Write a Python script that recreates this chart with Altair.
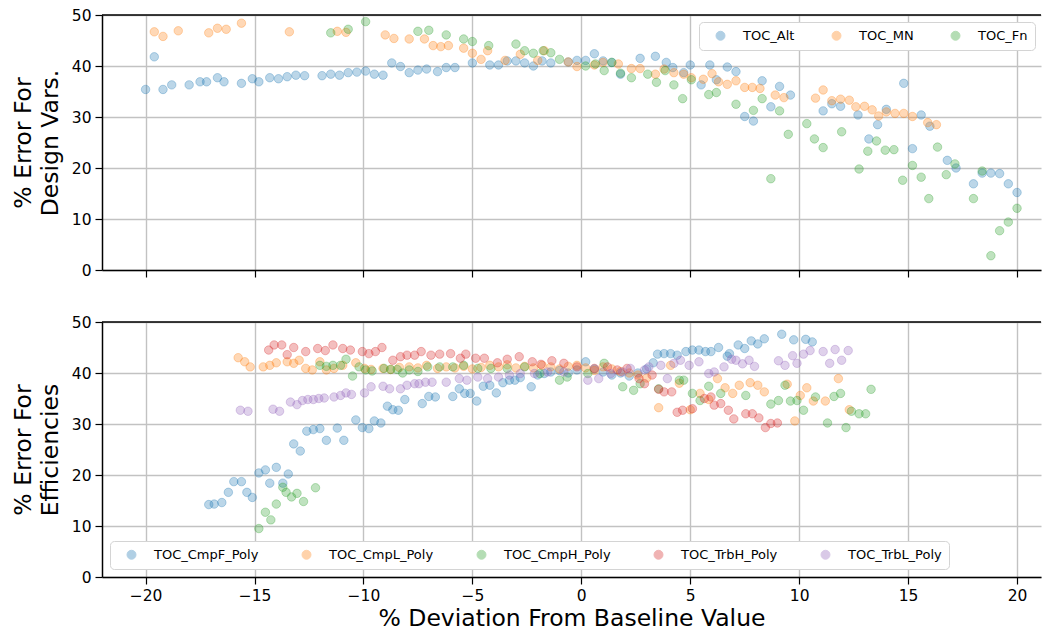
import altair as alt
import pandas as pd

# ---------------- data (x = % deviation, y = % error) ----------------
top_names = ["TOC_Alt", "TOC_MN", "TOC_Fn"]
bot_names = ["TOC_CmpF_Poly", "TOC_CmpL_Poly", "TOC_CmpH_Poly", "TOC_TrbH_Poly", "TOC_TrbL_Poly"]
palette_top = ["#1f77b4", "#ff7f0e", "#2ca02c"]
palette_bot = ["#1f77b4", "#ff7f0e", "#2ca02c", "#d62728", "#9467bd"]

toc_alt = [(-20.0, 35.4), (-19.6, 41.8), (-19.2, 35.4), (-18.8, 36.3), (-18.0, 36.3), (-17.5, 36.9),
           (-17.2, 36.9), (-16.7, 37.7), (-16.4, 36.9), (-15.6, 36.6), (-15.1, 37.5), (-14.8, 36.9),
           (-14.3, 37.7), (-13.9, 37.5), (-13.5, 37.9), (-13.1, 38.2), (-12.7, 38.1), (-11.9, 38.1),
           (-11.5, 38.4), (-11.1, 38.2), (-10.7, 38.7), (-10.3, 38.8), (-9.9, 39.0), (-9.5, 38.4),
           (-9.1, 38.2), (-8.7, 40.6), (-8.3, 39.9), (-7.9, 38.7), (-7.5, 39.2), (-7.1, 39.4),
           (-6.6, 38.9), (-6.2, 39.7), (-5.8, 39.7), (-5.0, 40.6), (-4.2, 40.2), (-3.8, 40.2),
           (-3.4, 41.0), (-3.0, 41.0), (-2.6, 40.6), (-2.2, 40.0), (-1.8, 41.0), (-1.4, 40.6),
           (-0.6, 40.8), (-0.2, 41.1), (0.2, 41.1), (0.6, 42.4), (1.0, 41.0), (1.4, 40.7),
           (1.8, 38.4), (2.7, 41.5), (3.4, 41.9), (3.9, 40.7), (4.2, 39.7), (4.7, 38.7),
           (5.0, 40.2), (5.5, 36.3), (5.9, 40.2), (6.2, 37.3), (6.7, 39.8), (7.1, 38.9),
           (7.5, 30.1), (7.9, 29.2), (8.3, 37.1), (8.7, 32.0), (9.1, 36.0), (9.6, 34.3),
           (11.1, 31.2), (11.5, 32.6), (11.9, 32.1), (12.7, 30.4), (13.2, 25.7), (13.6, 28.5),
           (14.0, 31.5), (14.8, 36.6), (15.2, 23.8), (15.6, 30.4), (16.0, 28.2), (16.8, 21.5),
           (17.2, 20.0), (18.0, 16.9), (18.4, 19.0), (18.8, 19.0), (19.2, 18.9), (19.6, 16.9),
           (20.0, 15.2)]

toc_mn = [(-19.6, 46.7), (-19.2, 45.8), (-18.5, 46.9), (-17.1, 46.5), (-16.7, 47.4), (-16.3, 47.2),
          (-15.6, 48.4), (-13.4, 46.7), (-11.2, 46.8), (-10.8, 46.6), (-9.0, 46.1), (-8.6, 45.4),
          (-7.9, 45.3), (-7.2, 45.3), (-6.8, 44.0), (-6.45, 43.8), (-6.1, 44.0), (-5.4, 43.5),
          (-5.0, 42.5), (-4.6, 41.3), (-4.3, 43.0), (-3.5, 41.1), (-2.8, 42.3), (-2.0, 41.1),
          (-1.7, 43.0), (-0.6, 40.8), (-0.2, 39.9), (0.6, 40.2), (1.0, 40.7), (1.7, 40.4),
          (2.3, 39.5), (2.7, 39.5), (3.4, 38.4), (3.8, 39.4), (4.25, 38.7), (4.7, 38.4),
          (5.05, 37.7), (5.6, 37.4), (6.0, 38.5), (6.3, 36.9), (6.7, 36.4), (7.1, 37.1),
          (7.5, 35.8), (7.85, 35.8), (8.2, 35.6), (8.9, 34.3), (9.3, 33.8), (10.75, 33.7),
          (11.1, 35.3), (11.5, 33.2), (11.9, 33.5), (12.3, 33.3), (12.6, 32.0), (13.0, 32.1),
          (13.35, 31.4), (13.65, 30.2), (14.0, 31.0), (14.4, 30.7), (14.8, 30.7), (15.2, 30.1),
          (15.9, 28.9), (16.3, 28.5)]

toc_fn = [(-11.5, 46.5), (-10.7, 47.2), (-9.9, 48.7), (-7.5, 46.8), (-7.0, 47.0), (-6.2, 46.1),
          (-5.4, 45.3), (-5.0, 44.8), (-4.25, 44.0), (-3.0, 44.3), (-2.6, 43.0), (-2.2, 42.5),
          (-1.75, 43.0), (-1.4, 42.6), (-1.0, 41.3), (0.2, 40.0), (0.65, 40.4), (1.05, 39.1),
          (1.4, 40.7), (1.8, 38.6), (2.3, 37.7), (3.05, 38.4), (3.45, 36.8), (3.85, 39.1),
          (4.25, 36.3), (4.65, 33.6), (5.05, 37.3), (5.85, 34.4), (6.2, 34.8), (7.1, 32.5),
          (7.9, 31.3), (8.3, 33.6), (8.7, 17.9), (9.1, 31.2), (9.5, 26.6), (10.35, 28.7),
          (10.7, 25.7), (11.1, 24.0), (11.95, 27.1), (12.75, 19.8), (13.15, 23.3), (13.55, 25.3),
          (13.95, 23.5), (14.35, 23.6), (14.75, 17.6), (15.2, 20.5), (15.6, 18.2), (15.95, 14.0),
          (16.35, 24.1), (16.75, 18.7), (17.15, 20.8), (18.0, 14.0), (18.4, 19.4), (18.8, 2.8),
          (19.2, 7.7), (19.6, 9.4), (20.0, 12.1)]

cmpf = [(-17.1, 14.2), (-16.85, 14.3), (-16.5, 14.6), (-16.2, 16.6), (-15.95, 18.7), (-15.6, 18.7),
        (-15.35, 16.6), (-15.1, 15.6), (-14.8, 20.4), (-14.5, 21.0), (-14.3, 18.4), (-14.0, 21.5),
        (-13.7, 18.4), (-13.45, 20.2), (-13.2, 26.1), (-12.9, 24.7), (-12.6, 28.6), (-12.3, 28.9),
        (-12.0, 29.1), (-11.7, 26.8), (-11.2, 29.2), (-10.9, 26.8), (-10.35, 30.8), (-10.05, 29.3),
        (-9.75, 29.1), (-9.5, 30.6), (-9.2, 30.2), (-8.9, 33.5), (-8.65, 32.8), (-8.4, 32.7),
        (-8.1, 34.8), (-7.3, 34.0), (-7.0, 35.4), (-6.7, 35.3), (-5.9, 35.4), (-5.6, 36.9),
        (-5.35, 36.0), (-5.1, 36.0), (-4.8, 34.5), (-4.5, 37.4), (-4.2, 37.6), (-3.9, 36.1),
        (-3.6, 38.1), (-3.3, 38.6), (-3.05, 38.6), (-2.8, 39.1), (-2.3, 37.3), (-2.0, 39.6),
        (-1.7, 39.9), (-1.4, 40.2), (-1.0, 40.5), (-0.6, 40.0), (-0.2, 40.6), (0.2, 42.2),
        (0.6, 40.8), (1.0, 40.2), (1.4, 39.6), (1.8, 40.0), (2.2, 39.4), (2.6, 40.0),
        (3.0, 40.8), (3.3, 42.0), (3.5, 43.7), (3.8, 43.8), (4.1, 43.8), (4.4, 43.5),
        (4.8, 44.2), (5.1, 44.5), (5.4, 44.5), (5.7, 44.2), (5.95, 44.2), (6.3, 45.0),
        (6.7, 43.3), (6.8, 43.8), (7.2, 45.5), (7.5, 44.8), (7.8, 46.3), (8.1, 45.7),
        (8.4, 46.7), (9.2, 47.6), (9.75, 46.5), (10.3, 46.6), (10.6, 46.1)]

cmpl = [(-15.75, 43.0), (-15.45, 42.2), (-15.2, 41.2), (-14.6, 41.2), (-14.3, 41.5), (-14.0, 42.0),
        (-13.5, 42.2), (-13.2, 41.9), (-12.95, 42.5), (-12.65, 40.9), (-12.35, 40.6), (-12.0, 42.2),
        (-11.7, 40.6), (-11.35, 40.9), (-10.95, 41.5), (-10.35, 42.0), (-9.95, 40.9), (-9.65, 40.7),
        (-9.1, 40.9), (-8.75, 40.7), (-8.35, 41.1), (-7.9, 41.2), (-7.5, 41.0), (-7.1, 41.5),
        (-6.6, 40.9), (-6.2, 41.2), (-5.8, 41.0), (-5.4, 41.3), (-5.0, 40.8), (-4.6, 41.1),
        (-4.2, 41.5), (-3.8, 41.2), (-3.4, 41.6), (-3.0, 41.0), (-2.6, 41.3), (-2.2, 41.0),
        (-1.8, 41.5), (-1.4, 41.2), (-1.0, 40.8), (-0.6, 41.3), (-0.2, 41.5), (0.2, 41.0),
        (0.6, 40.5), (1.0, 41.2), (1.4, 40.8), (1.8, 40.3), (2.2, 40.0), (2.6, 39.6),
        (3.0, 39.0), (3.55, 33.2), (4.1, 41.5), (4.5, 38.0), (5.0, 32.8), (5.45, 36.0),
        (5.85, 34.8), (6.25, 38.9), (6.6, 37.1), (6.95, 36.0), (7.25, 37.6), (7.75, 38.1),
        (8.1, 37.6), (8.4, 36.3), (9.45, 37.8), (9.8, 30.6), (10.05, 35.6), (10.35, 37.1),
        (10.65, 34.5), (11.2, 34.5), (11.8, 38.9), (12.3, 32.8)]

cmph = [(-14.8, 9.5), (-14.5, 12.7), (-14.25, 11.2), (-14.0, 14.3), (-13.7, 17.6), (-13.55, 16.6),
        (-13.3, 15.7), (-13.05, 16.4), (-12.75, 14.8), (-12.2, 17.5), (-12.0, 41.5), (-11.7, 41.3),
        (-11.4, 41.5), (-11.05, 41.5), (-10.8, 42.7), (-10.5, 39.4), (-10.2, 41.2), (-9.9, 40.6),
        (-9.6, 40.4), (-9.05, 40.9), (-8.75, 40.7), (-8.45, 40.7), (-8.2, 40.0), (-7.9, 40.6),
        (-7.5, 40.3), (-7.05, 41.2), (-6.5, 41.2), (-5.9, 41.2), (-5.4, 41.5), (-4.75, 40.9),
        (-4.15, 40.9), (-3.4, 40.9), (-2.6, 41.2), (-1.9, 39.9), (-1.0, 38.6), (-0.65, 39.2),
        (0.3, 39.9), (1.05, 41.9), (1.9, 37.3), (2.4, 36.6), (2.7, 37.9), (3.55, 36.9),
        (4.5, 38.6), (4.7, 38.6), (5.1, 36.0), (5.45, 34.6), (5.85, 37.4), (6.4, 36.0),
        (7.55, 35.6), (8.7, 33.9), (9.05, 34.6), (9.35, 37.6), (9.6, 34.5), (9.9, 34.6),
        (10.2, 32.7), (10.75, 35.3), (11.3, 30.2), (11.6, 35.4), (11.9, 36.0), (12.15, 29.3),
        (12.4, 32.5), (12.75, 32.0), (13.05, 32.0), (13.3, 36.8)]

trbh = [(-14.35, 44.5), (-14.1, 45.5), (-13.75, 45.5), (-13.5, 43.6), (-13.2, 45.0), (-12.65, 44.2),
        (-12.1, 44.8), (-11.75, 44.4), (-11.4, 45.5), (-10.95, 44.8), (-10.6, 44.5), (-10.05, 44.2),
        (-9.75, 43.8), (-9.45, 44.2), (-9.15, 45.0), (-8.65, 42.5), (-8.3, 43.2), (-8.0, 43.5),
        (-7.65, 43.5), (-7.35, 44.2), (-6.9, 43.5), (-6.5, 43.7), (-6.0, 43.8), (-5.55, 42.9),
        (-5.3, 43.7), (-4.85, 42.9), (-4.45, 42.9), (-3.85, 42.0), (-3.4, 42.7), (-2.85, 43.2),
        (-2.25, 42.2), (-1.85, 41.7), (-1.35, 42.4), (-0.8, 41.9), (-0.2, 41.2), (0.6, 40.9),
        (1.2, 41.2), (1.65, 40.6), (2.1, 40.9), (2.65, 38.9), (2.9, 37.9), (3.25, 39.6),
        (3.55, 36.8), (3.8, 36.3), (4.15, 36.3), (4.4, 32.3), (4.65, 32.7), (5.1, 33.0),
        (5.65, 35.0), (5.95, 35.3), (6.1, 33.7), (6.4, 34.0), (6.75, 32.7), (7.0, 31.0),
        (7.55, 32.0), (7.85, 32.0), (8.15, 31.2), (8.45, 29.3), (8.7, 30.1), (9.0, 30.2)]

trbl = [(-15.65, 32.7), (-15.3, 32.5), (-14.15, 32.9), (-13.85, 32.5), (-13.35, 34.3), (-13.05, 33.8),
        (-12.8, 34.6), (-12.55, 34.8), (-12.3, 34.8), (-12.05, 35.0), (-11.8, 35.1), (-11.35, 35.3),
        (-11.05, 35.6), (-10.8, 36.1), (-10.55, 35.8), (-9.95, 36.1), (-9.65, 37.3), (-9.1, 37.4),
        (-8.8, 36.9), (-8.3, 36.9), (-8.0, 37.6), (-7.65, 37.9), (-7.45, 37.9), (-7.15, 38.2),
        (-6.85, 38.2), (-6.2, 38.2), (-5.6, 38.9), (-5.25, 38.6), (-4.75, 39.2), (-4.3, 38.9),
        (-3.8, 39.2), (-3.3, 39.6), (-2.8, 39.9), (-2.15, 39.9), (-1.55, 40.2), (-0.8, 40.2),
        (0.3, 38.6), (0.8, 38.9), (1.35, 39.9), (1.9, 40.2), (2.25, 40.9), (2.9, 40.6),
        (3.1, 41.2), (3.65, 41.5), (3.95, 38.9), (4.25, 41.9), (4.55, 42.5), (4.95, 41.5),
        (5.4, 42.2), (5.85, 39.9), (6.1, 40.2), (6.55, 41.2), (6.9, 42.7), (7.1, 42.5),
        (7.4, 41.8), (7.7, 42.5), (7.95, 41.3), (9.05, 42.4), (9.35, 41.5), (9.7, 43.4),
        (9.9, 41.9), (10.2, 43.7), (10.5, 44.4), (11.1, 44.2), (11.4, 41.9), (11.65, 44.6),
        (11.95, 42.5), (12.25, 44.4)]

x_ticks = [-20, -15, -10, -5, 0, 5, 10, 15, 20]
y_ticks = [0, 10, 20, 30, 40, 50]
x_domain = [-22, 21.1]
y_domain = [0, 50]


def frame(names, series):
    rows = []
    for i, (n, pts) in enumerate(zip(names, series)):
        for j, (x, y) in enumerate(pts):
            rows.append({"series": n, "x": x, "y": y, "order": i * 1000 + j})
    return pd.DataFrame(rows)


top_df = frame(top_names, [toc_alt, toc_mn, toc_fn])
bot_df = frame(bot_names, [cmpf, cmpl, cmph, trbh, trbl])
spine_df = pd.DataFrame({"y": [y_domain[1]]})

FONT = "DejaVu Sans"
W, H = 939, 255

axis_common = dict(
    labelFont=FONT, labelFontSize=15.5, labelColor="black",
    titleFont=FONT, titleFontSize=23.5, titleFontWeight="normal", titleColor="black",
    tickColor="black", tickSize=7, tickWidth=1.2,
    domainColor="black", domainWidth=1.5,
    gridColor="#c2c2c2", gridWidth=1.4, labelPadding=4,
)

xscale = alt.Scale(domain=x_domain, nice=False, zero=False)
yscale = alt.Scale(domain=y_domain, nice=False, zero=False)


def legend(cols, lx, ly, colpad):
    return alt.Legend(
        orient="none", legendX=lx, legendY=ly, direction="horizontal", columns=cols,
        title=None, labelFont=FONT, labelFontSize=13, labelColor="black",
        symbolType="circle", symbolSize=80, symbolOpacity=0.35, symbolStrokeWidth=1,
        columnPadding=colpad, padding=7, symbolOffset=8, labelOffset=16, gridAlign="each",
        fillColor="white", strokeColor="#d4d4d4", cornerRadius=4,
    )


def panel(df, names, colors, ytitle, xaxis, leg):
    pts = alt.Chart(df).mark_circle(
        size=72, fillOpacity=0.3, strokeOpacity=0.3, strokeWidth=1
    ).encode(
        x=alt.X("x:Q", scale=xscale, axis=xaxis),
        y=alt.Y("y:Q", scale=yscale,
                axis=alt.Axis(values=y_ticks, title=ytitle, titleLineHeight=27,
                              titlePadding=9, **axis_common)),
        color=alt.Color("series:N", scale=alt.Scale(domain=names, range=colors), legend=leg),
        stroke=alt.Stroke("series:N", scale=alt.Scale(domain=names, range=colors), legend=None),
        order=alt.Order("order:Q"),
    )
    top_spine = alt.Chart(spine_df).mark_rule(color="black", strokeWidth=1.5).encode(
        y=alt.Y("y:Q", scale=yscale)
    )
    return alt.layer(pts, top_spine).properties(width=W, height=H)


top = panel(
    top_df, top_names, palette_top, ["% Error For", "Design Vars."],
    alt.Axis(values=x_ticks, labels=False, title=None, **axis_common),
    legend(3, 597, 7, 27),
)
bottom = panel(
    bot_df, bot_names, palette_bot, ["% Error For", "Efficiencies"],
    alt.Axis(values=x_ticks, title="% Deviation From Baseline Value", titlePadding=3,
             format="d", **axis_common),
    legend(5, 8, 219, 33),
)

chart = alt.vconcat(top, bottom, spacing=36).resolve_scale(
    color="independent", stroke="independent"
).resolve_legend(color="independent").configure_view(
    stroke=None
).properties(
    padding={"left": 3, "top": 0, "right": 0, "bottom": 6}, background="white"
)

chart.save("out.html", embed_options={"renderer": "svg", "actions": False})
